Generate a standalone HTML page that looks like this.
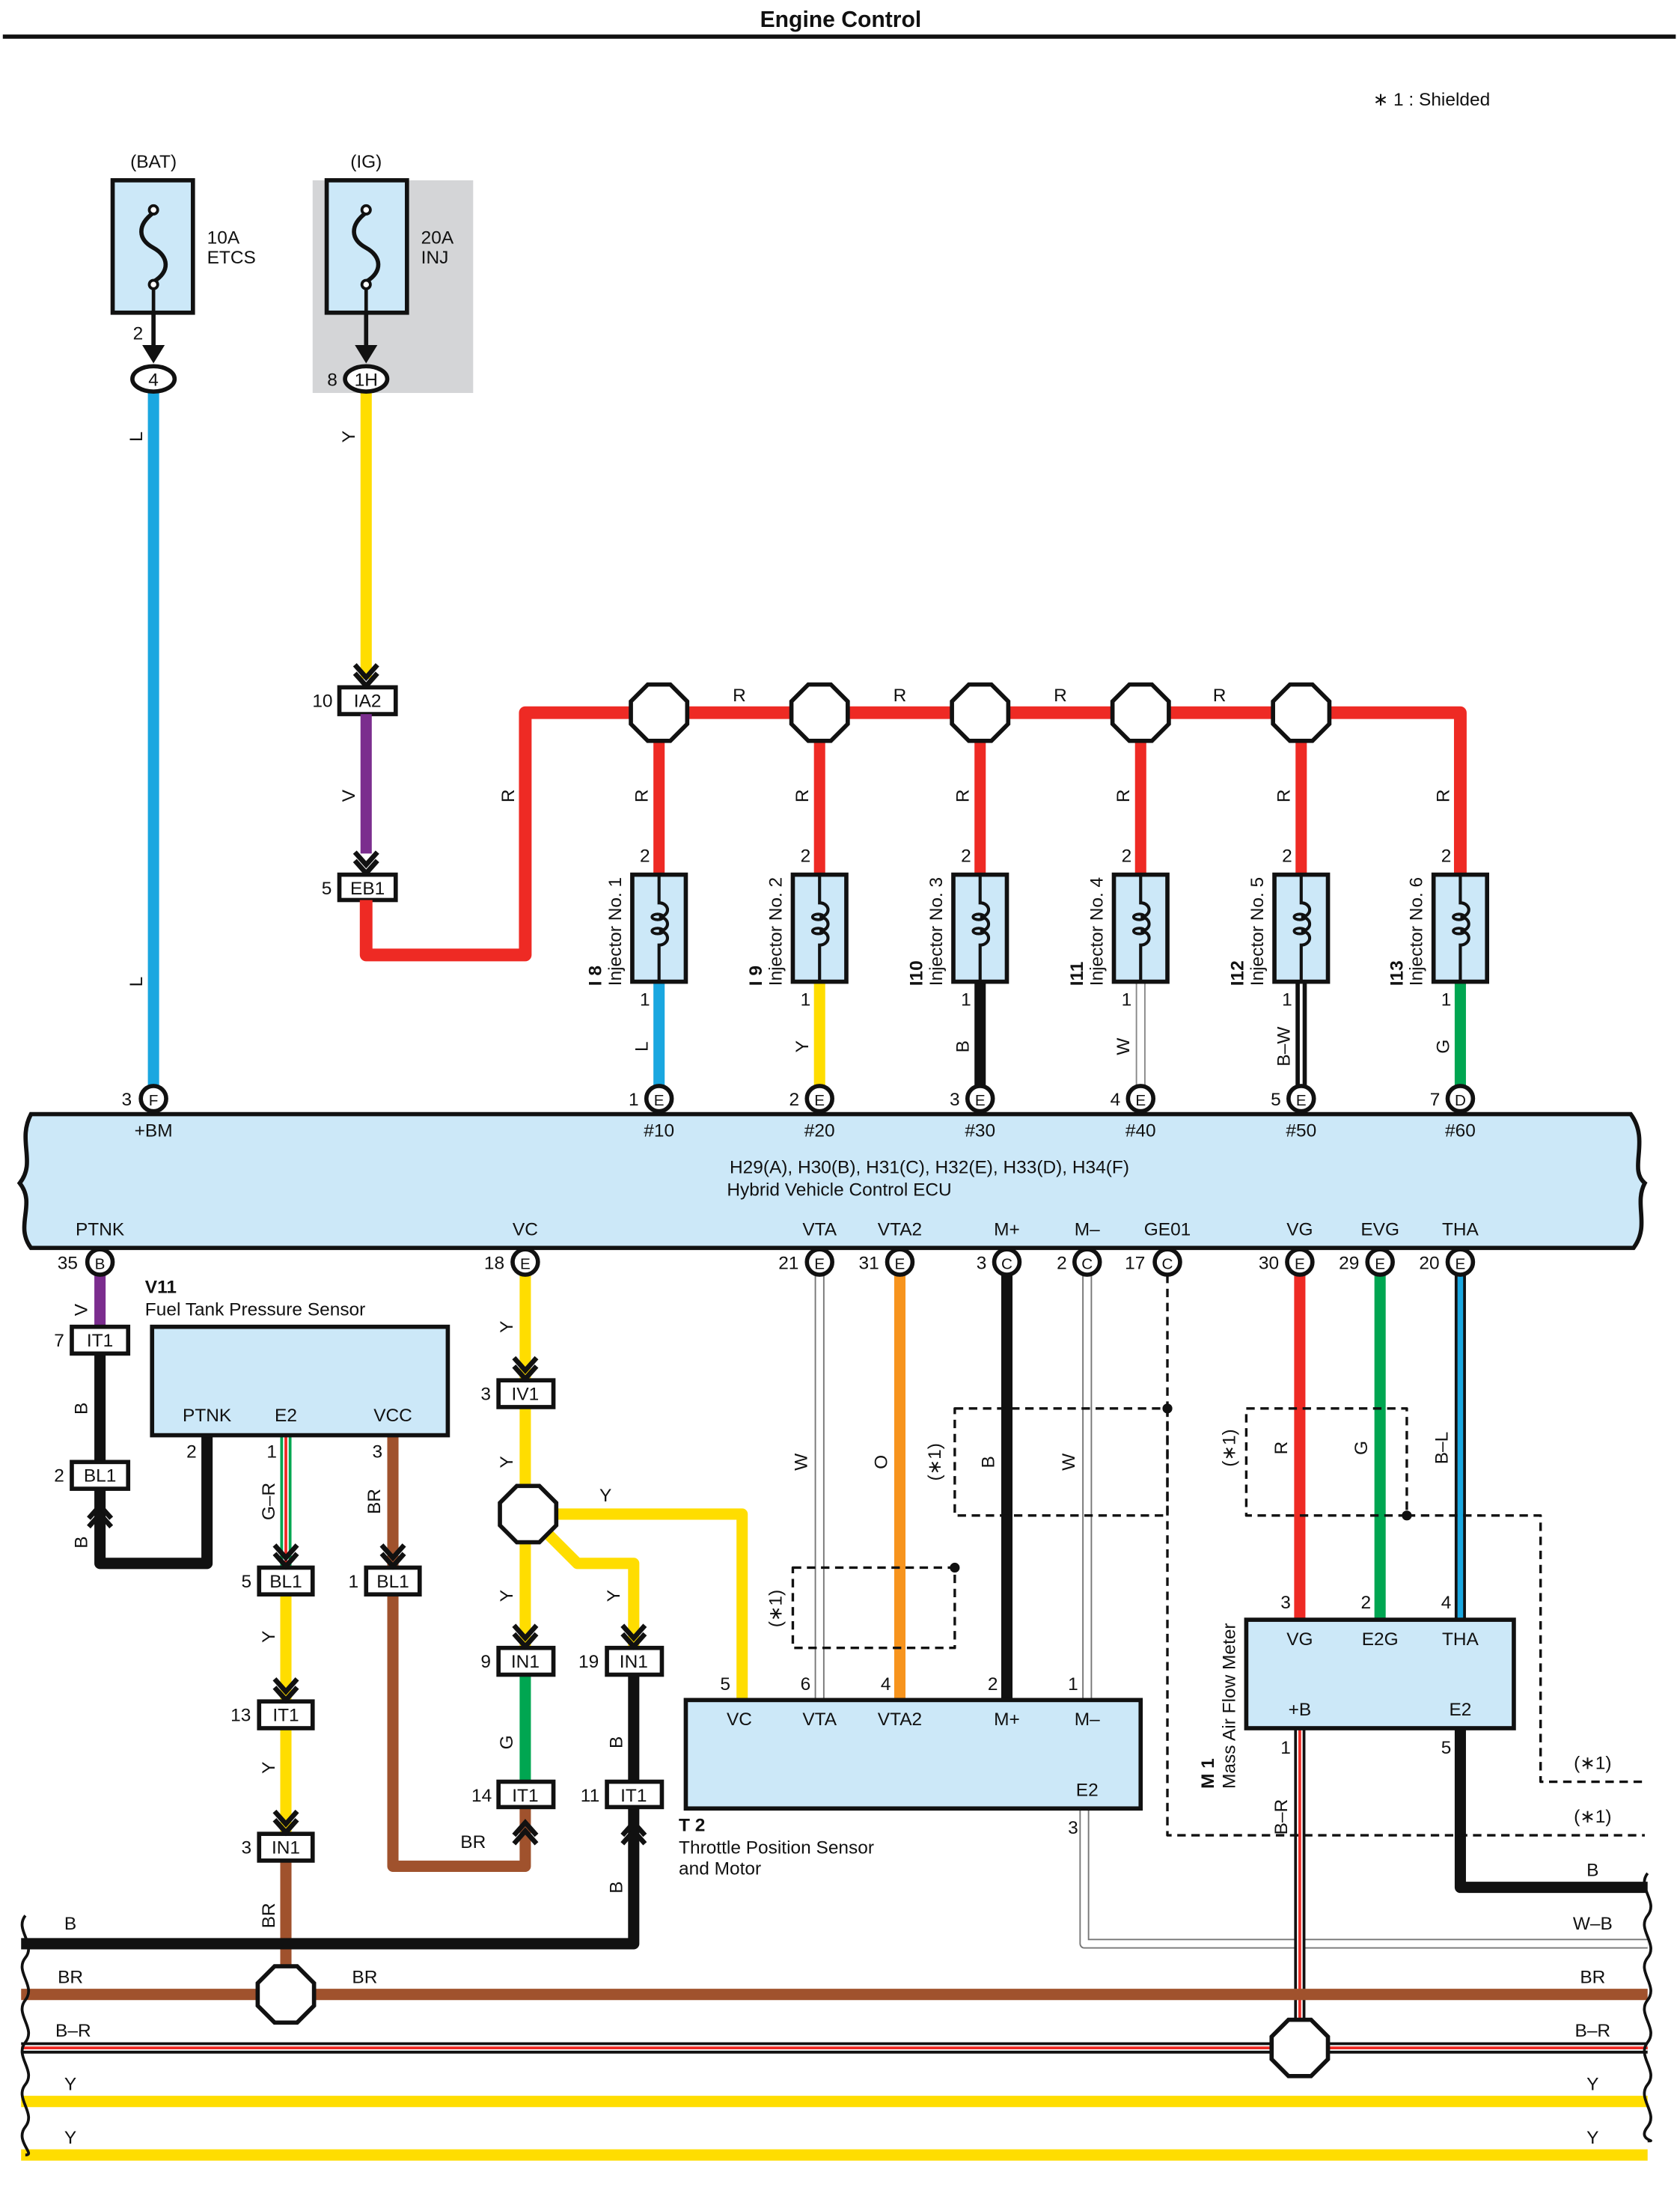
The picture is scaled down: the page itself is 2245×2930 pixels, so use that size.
<!DOCTYPE html>
<html><head><meta charset="utf-8"><style>
html,body{margin:0;padding:0;background:#fff}
svg{display:block}
text{font-family:"Liberation Sans",sans-serif;font-size:13px;fill:#111}
.c{text-anchor:middle}
.b{font-weight:bold}
</style></head><body>
<svg width="2245" height="2930" viewBox="0 0 1193 1557" preserveAspectRatio="none" xmlns="http://www.w3.org/2000/svg">
<defs>
<g id="oct"><polygon points="-8,-20 8,-20 20,-8 20,8 8,20 -8,20 -20,8 -20,-8" fill="#fff" stroke="#111" stroke-width="3"/></g>
<g id="chd"><polyline points="-8,-14 0,-5 8,-14" fill="none" stroke="#111" stroke-width="3.5"/><polyline points="-8,-8 0,1 8,-8" fill="none" stroke="#111" stroke-width="3.5"/></g>
<g id="chu"><polyline points="-8,14 0,5 8,14" fill="none" stroke="#111" stroke-width="3.5"/><polyline points="-8,8 0,-1 8,8" fill="none" stroke="#111" stroke-width="3.5"/></g>
<g id="coil"><rect x="-19" y="0" width="38" height="76" fill="#cce8f8" stroke="#111" stroke-width="3"/><path d="M0,0 V20 a6,5 0 0 1 0,10 a6,5 0 0 1 0,10 a6,5 0 0 1 0,10 V76" fill="none" stroke="#111" stroke-width="2.2"/><ellipse cx="-1" cy="30" rx="4" ry="2" fill="none" stroke="#111" stroke-width="2"/><ellipse cx="-1" cy="40" rx="4" ry="2" fill="none" stroke="#111" stroke-width="2"/></g>
</defs>
<rect width="1193" height="1557" fill="#fff"/>
<text x="597" y="19" class="c b" style="font-size:16px">Engine Control</text>
<line x1="2" y1="26" x2="1190" y2="26" stroke="#111" stroke-width="3"/>
<text x="975" y="75">∗ 1 : Shielded</text>

<!-- fuses -->
<rect x="222" y="128" width="114" height="151" fill="#d4d5d7"/>
<text x="109" y="119" class="c">(BAT)</text><text x="260" y="119" class="c">(IG)</text>
<rect x="80" y="128" width="57" height="94" fill="#cce8f8" stroke="#111" stroke-width="3"/>
<rect x="232" y="128" width="57" height="94" fill="#cce8f8" stroke="#111" stroke-width="3"/>
<path d="M109,151 C97,160 98,170 109,176 C120,182 121,193 109,200" fill="none" stroke="#111" stroke-width="3"/>
<path d="M260,151 C248,160 249,170 260,176 C271,182 272,193 260,200" fill="none" stroke="#111" stroke-width="3"/>
<line x1="109" y1="202" x2="109" y2="222" stroke="#111" stroke-width="2.5"/><line x1="260" y1="202" x2="260" y2="222" stroke="#111" stroke-width="2.5"/>
<circle cx="109" cy="149" r="3" fill="#fff" stroke="#111" stroke-width="2"/><circle cx="109" cy="202" r="3" fill="#fff" stroke="#111" stroke-width="2"/>
<circle cx="260" cy="149" r="3" fill="#fff" stroke="#111" stroke-width="2"/><circle cx="260" cy="202" r="3" fill="#fff" stroke="#111" stroke-width="2"/>
<text x="147" y="173">10A</text><text x="147" y="187">ETCS</text>
<text x="299" y="173">20A</text><text x="299" y="187">INJ</text>
<line x1="109" y1="222" x2="109" y2="250" stroke="#111" stroke-width="3"/><polygon points="101,245 117,245 109,258" fill="#111"/>
<line x1="260" y1="222" x2="260" y2="250" stroke="#111" stroke-width="3"/><polygon points="252,245 268,245 260,258" fill="#111"/>
<text x="98" y="241" class="c">2</text><text x="236" y="274" class="c">8</text>

<!-- wires top -->
<line x1="109" y1="278" x2="109" y2="772" stroke="#1aa7e0" stroke-width="8"/>
<ellipse cx="109" cy="269" rx="15" ry="9" fill="#fff" stroke="#111" stroke-width="3"/><text x="109" y="274" class="c">4</text>
<line x1="260" y1="278" x2="260" y2="482" stroke="#ffdd00" stroke-width="8"/>
<ellipse cx="260" cy="269" rx="15" ry="9" fill="#fff" stroke="#111" stroke-width="3"/><text x="260" y="274" class="c">1H</text>
<use href="#chd" x="260" y="486"/>
<rect x="241" y="488" width="40" height="19" fill="#fff" stroke="#111" stroke-width="3"/><text x="261" y="502" class="c">IA2</text><text x="229" y="502" class="c">10</text>
<line x1="260" y1="507" x2="260" y2="606" stroke="#7b2d8e" stroke-width="8"/>
<use href="#chd" x="260" y="619"/>
<rect x="241" y="621" width="40" height="18" fill="#fff" stroke="#111" stroke-width="3"/><text x="261" y="635" class="c">EB1</text><text x="232" y="635" class="c">5</text>
<path d="M260,639 V678 H373 V506 H1037 V622" fill="none" stroke="#ee2a24" stroke-width="9" stroke-linejoin="round"/>
<g transform="rotate(-90)">
<text x="-310" y="101" class="c">L</text><text x="-697" y="101" class="c">L</text>
<text x="-310" y="252" class="c">Y</text><text x="-565" y="252" class="c">V</text><text x="-565" y="365" class="c">R</text>
</g>
<text x="525" y="498" class="c">R</text><text x="639" y="498" class="c">R</text><text x="753" y="498" class="c">R</text><text x="866" y="498" class="c">R</text>

<!-- injectors -->
<g stroke-width="8">
<line x1="468" y1="506" x2="468" y2="621" stroke="#ee2a24"/><line x1="582" y1="506" x2="582" y2="621" stroke="#ee2a24"/><line x1="696" y1="506" x2="696" y2="621" stroke="#ee2a24"/><line x1="810" y1="506" x2="810" y2="621" stroke="#ee2a24"/><line x1="924" y1="506" x2="924" y2="621" stroke="#ee2a24"/>
<line x1="468" y1="697" x2="468" y2="772" stroke="#1aa7e0"/>
<line x1="582" y1="697" x2="582" y2="772" stroke="#ffdd00"/>
<line x1="696" y1="697" x2="696" y2="772" stroke="#111"/>
<line x1="810" y1="697" x2="810" y2="772" stroke="#888" stroke-width="7"/><line x1="810" y1="697" x2="810" y2="772" stroke="#fff" stroke-width="5"/>
<line x1="924" y1="697" x2="924" y2="772" stroke="#111"/><line x1="924" y1="697" x2="924" y2="772" stroke="#fff" stroke-width="2"/>
<line x1="1037" y1="697" x2="1037" y2="772" stroke="#00a651"/>
</g>
<use href="#oct" x="468" y="506"/><use href="#oct" x="582" y="506"/><use href="#oct" x="696" y="506"/><use href="#oct" x="810" y="506"/><use href="#oct" x="924" y="506"/>
<use href="#coil" x="468" y="621"/><use href="#coil" x="582" y="621"/><use href="#coil" x="696" y="621"/><use href="#coil" x="810" y="621"/><use href="#coil" x="924" y="621"/><use href="#coil" x="1037" y="621"/>
<g class="c">
<text x="458" y="612" class="c">2</text><text x="572" y="612" class="c">2</text><text x="686" y="612" class="c">2</text><text x="800" y="612" class="c">2</text><text x="914" y="612" class="c">2</text><text x="1027" y="612" class="c">2</text>
<text x="458" y="714" class="c">1</text><text x="572" y="714" class="c">1</text><text x="686" y="714" class="c">1</text><text x="800" y="714" class="c">1</text><text x="914" y="714" class="c">1</text><text x="1027" y="714" class="c">1</text>
</g>
<g transform="rotate(-90)">
<text x="-565" y="460" class="c">R</text><text x="-565" y="574" class="c">R</text><text x="-565" y="688" class="c">R</text><text x="-565" y="802" class="c">R</text><text x="-565" y="916" class="c">R</text><text x="-565" y="1029" class="c">R</text>
<text x="-743" y="460" class="c">L</text><text x="-743" y="574" class="c">Y</text><text x="-743" y="688" class="c">B</text><text x="-743" y="802" class="c">W</text><text x="-743" y="916" class="c">B–W</text><text x="-743" y="1029" class="c">G</text>
<text x="-700" y="427" class="b">I 8</text><text x="-700" y="441">Injector No. 1</text>
<text x="-700" y="541" class="b">I 9</text><text x="-700" y="555">Injector No. 2</text>
<text x="-700" y="655" class="b">I10</text><text x="-700" y="669">Injector No. 3</text>
<text x="-700" y="769" class="b">I11</text><text x="-700" y="783">Injector No. 4</text>
<text x="-700" y="883" class="b">I12</text><text x="-700" y="897">Injector No. 5</text>
<text x="-700" y="996" class="b">I13</text><text x="-700" y="1010">Injector No. 6</text>
</g>

<!-- ECU -->
<path d="M22,791 H1158 C1172,810 1156,830 1168,840 C1160,855 1172,870 1160,886 H22 C10,870 26,855 14,840 C26,825 12,810 22,791 Z" fill="#cce8f8" stroke="#111" stroke-width="3"/>
<g>
<circle cx="109" cy="780" r="9" fill="#fff" stroke="#111" stroke-width="3"/><text x="109" y="785" class="c" style="font-size:11px">F</text><text x="90" y="785" class="c">3</text>
<circle cx="468" cy="780" r="9" fill="#fff" stroke="#111" stroke-width="3"/><text x="468" y="785" class="c" style="font-size:11px">E</text><text x="450" y="785" class="c">1</text>
<circle cx="582" cy="780" r="9" fill="#fff" stroke="#111" stroke-width="3"/><text x="582" y="785" class="c" style="font-size:11px">E</text><text x="564" y="785" class="c">2</text>
<circle cx="696" cy="780" r="9" fill="#fff" stroke="#111" stroke-width="3"/><text x="696" y="785" class="c" style="font-size:11px">E</text><text x="678" y="785" class="c">3</text>
<circle cx="810" cy="780" r="9" fill="#fff" stroke="#111" stroke-width="3"/><text x="810" y="785" class="c" style="font-size:11px">E</text><text x="792" y="785" class="c">4</text>
<circle cx="924" cy="780" r="9" fill="#fff" stroke="#111" stroke-width="3"/><text x="924" y="785" class="c" style="font-size:11px">E</text><text x="906" y="785" class="c">5</text>
<circle cx="1037" cy="780" r="9" fill="#fff" stroke="#111" stroke-width="3"/><text x="1037" y="785" class="c" style="font-size:11px">D</text><text x="1019" y="785" class="c">7</text>
</g>
<text x="109" y="807" class="c">+BM</text><text x="468" y="807" class="c">#10</text><text x="582" y="807" class="c">#20</text><text x="696" y="807" class="c">#30</text><text x="810" y="807" class="c">#40</text><text x="924" y="807" class="c">#50</text><text x="1037" y="807" class="c">#60</text>
<text x="660" y="833" class="c">H29(A), H30(B), H31(C), H32(E), H33(D), H34(F)</text>
<text x="596" y="849" class="c">Hybrid Vehicle Control ECU</text>
<text x="71" y="877" class="c">PTNK</text><text x="373" y="877" class="c">VC</text><text x="582" y="877" class="c">VTA</text><text x="639" y="877" class="c">VTA2</text><text x="715" y="877" class="c">M+</text><text x="772" y="877" class="c">M–</text><text x="829" y="877" class="c">GE01</text><text x="923" y="877" class="c">VG</text><text x="980" y="877" class="c">EVG</text><text x="1037" y="877" class="c">THA</text>

<!-- lower wires -->
<g fill="none" stroke-linejoin="round">
<line x1="71" y1="905" x2="71" y2="942" stroke="#7b2d8e" stroke-width="8"/>
<line x1="71" y1="961" x2="71" y2="1038" stroke="#111" stroke-width="8"/>
<path d="M71,1057 V1110 H147 V1019" stroke="#111" stroke-width="8"/>
<line x1="203" y1="1019" x2="203" y2="1113" stroke="#00a651" stroke-width="8"/><line x1="203" y1="1019" x2="203" y2="1113" stroke="#fff" stroke-width="4"/><line x1="203" y1="1019" x2="203" y2="1113" stroke="#ee2a24" stroke-width="2"/>
<line x1="203" y1="1132" x2="203" y2="1208" stroke="#ffdd00" stroke-width="8"/>
<line x1="203" y1="1227" x2="203" y2="1302" stroke="#ffdd00" stroke-width="8"/>
<line x1="203" y1="1321" x2="203" y2="1416" stroke="#a0522d" stroke-width="8"/>
<line x1="279" y1="1019" x2="279" y2="1113" stroke="#a0522d" stroke-width="8"/>
<path d="M279,1132 V1325 H373 V1283" stroke="#a0522d" stroke-width="8"/>
<path d="M373,905 V1170" stroke="#ffdd00" stroke-width="8"/>
<path d="M375,1075 H527 V1207" stroke="#ffdd00" stroke-width="8"/>
<path d="M385,1085 L410,1110 H450 V1170" stroke="#ffdd00" stroke-width="8"/>
<line x1="373" y1="1189" x2="373" y2="1265" stroke="#00a651" stroke-width="8"/>
<line x1="450" y1="1189" x2="450" y2="1265" stroke="#111" stroke-width="8"/>
<path d="M450,1283 V1380 H15" stroke="#111" stroke-width="8"/>
<line x1="582" y1="905" x2="582" y2="1207" stroke="#777" stroke-width="7"/><line x1="582" y1="905" x2="582" y2="1207" stroke="#fff" stroke-width="5"/>
<line x1="639" y1="905" x2="639" y2="1207" stroke="#f7941d" stroke-width="8"/>
<line x1="715" y1="905" x2="715" y2="1207" stroke="#111" stroke-width="8"/>
<line x1="772" y1="905" x2="772" y2="1207" stroke="#777" stroke-width="7"/><line x1="772" y1="905" x2="772" y2="1207" stroke="#fff" stroke-width="5"/>
<path d="M770,1284 V1380 H1170" stroke="#777" stroke-width="7"/><path d="M770,1284 V1380 H1170" stroke="#fff" stroke-width="5"/>
<line x1="923" y1="905" x2="923" y2="1150" stroke="#ee2a24" stroke-width="8"/>
<line x1="980" y1="905" x2="980" y2="1150" stroke="#00a651" stroke-width="8"/>
<line x1="1037" y1="905" x2="1037" y2="1150" stroke="#111" stroke-width="8"/><line x1="1037" y1="905" x2="1037" y2="1150" stroke="#1aa7e0" stroke-width="4"/>
<line x1="923" y1="1227" x2="923" y2="1454" stroke="#111" stroke-width="8"/><line x1="923" y1="1227" x2="923" y2="1454" stroke="#fff" stroke-width="4"/><line x1="923" y1="1227" x2="923" y2="1454" stroke="#ee2a24" stroke-width="2"/>
<path d="M1037,1227 V1340 H1170" stroke="#111" stroke-width="8"/>
<!-- buses -->
<line x1="15" y1="1416" x2="1170" y2="1416" stroke="#a0522d" stroke-width="8"/>
<line x1="15" y1="1454" x2="1170" y2="1454" stroke="#111" stroke-width="8"/><line x1="15" y1="1454" x2="1170" y2="1454" stroke="#fff" stroke-width="4"/><line x1="15" y1="1454" x2="1170" y2="1454" stroke="#ee2a24" stroke-width="2"/>
<line x1="15" y1="1492" x2="1170" y2="1492" stroke="#ffdd00" stroke-width="8"/>
<line x1="15" y1="1530" x2="1170" y2="1530" stroke="#ffdd00" stroke-width="8"/>
<path d="M18,1360 c-8,10 8,20 0,30 c-8,10 8,20 0,30 c-8,10 8,20 0,30 c-8,10 8,20 0,30 c-8,10 8,20 0,30 c-8,10 8,20 0,20" stroke="#111" stroke-width="2"/>
<path d="M1170,1330 c-8,10 8,20 0,30 c-8,10 8,20 0,30 c-8,10 8,20 0,30 c-8,10 8,20 0,30 c-8,10 8,20 0,30 c-8,10 8,20 0,30 c-8,10 8,10 0,10" stroke="#111" stroke-width="2"/>
<!-- shields -->
<g stroke="#111" stroke-width="1.8" stroke-dasharray="6,4">
<path d="M829,905 V1000"/><rect x="678" y="1000" width="151" height="76"/><rect x="563" y="1113" width="115" height="57"/>
<path d="M829,1000 V1303 H1168"/><rect x="885" y="1000" width="114" height="76"/>
<path d="M999,1076 H1094 V1265 H1168"/>
</g>
</g>
<circle cx="829" cy="1000" r="3.5" fill="#111"/><circle cx="678" cy="1113" r="3.5" fill="#111"/><circle cx="999" cy="1076" r="3.5" fill="#111"/>

<!-- ECU lower pins -->
<g>
<circle cx="71" cy="896" r="9" fill="#fff" stroke="#111" stroke-width="3"/><text x="71" y="901" class="c" style="font-size:11px">B</text><text x="48" y="901" class="c">35</text>
<circle cx="373" cy="896" r="9" fill="#fff" stroke="#111" stroke-width="3"/><text x="373" y="901" class="c" style="font-size:11px">E</text><text x="351" y="901" class="c">18</text>
<circle cx="582" cy="896" r="9" fill="#fff" stroke="#111" stroke-width="3"/><text x="582" y="901" class="c" style="font-size:11px">E</text><text x="560" y="901" class="c">21</text>
<circle cx="639" cy="896" r="9" fill="#fff" stroke="#111" stroke-width="3"/><text x="639" y="901" class="c" style="font-size:11px">E</text><text x="617" y="901" class="c">31</text>
<circle cx="715" cy="896" r="9" fill="#fff" stroke="#111" stroke-width="3"/><text x="715" y="901" class="c" style="font-size:11px">C</text><text x="697" y="901" class="c">3</text>
<circle cx="772" cy="896" r="9" fill="#fff" stroke="#111" stroke-width="3"/><text x="772" y="901" class="c" style="font-size:11px">C</text><text x="754" y="901" class="c">2</text>
<circle cx="829" cy="896" r="9" fill="#fff" stroke="#111" stroke-width="3"/><text x="829" y="901" class="c" style="font-size:11px">C</text><text x="806" y="901" class="c">17</text>
<circle cx="923" cy="896" r="9" fill="#fff" stroke="#111" stroke-width="3"/><text x="923" y="901" class="c" style="font-size:11px">E</text><text x="901" y="901" class="c">30</text>
<circle cx="980" cy="896" r="9" fill="#fff" stroke="#111" stroke-width="3"/><text x="980" y="901" class="c" style="font-size:11px">E</text><text x="958" y="901" class="c">29</text>
<circle cx="1037" cy="896" r="9" fill="#fff" stroke="#111" stroke-width="3"/><text x="1037" y="901" class="c" style="font-size:11px">E</text><text x="1015" y="901" class="c">20</text>
</g>

<!-- connectors -->
<g fill="#fff" stroke="#111" stroke-width="3">
<rect x="51" y="942" width="40" height="19"/><rect x="51" y="1038" width="40" height="19"/>
<rect x="184" y="1113" width="38" height="19"/><rect x="260" y="1113" width="38" height="19"/>
<rect x="184" y="1208" width="38" height="19"/><rect x="184" y="1302" width="38" height="19"/>
<rect x="354" y="980" width="39" height="19"/><rect x="354" y="1170" width="39" height="19"/><rect x="354" y="1265" width="39" height="18"/>
<rect x="431" y="1170" width="39" height="19"/><rect x="431" y="1265" width="39" height="18"/>
</g>
<text x="71" y="956" class="c">IT1</text><text x="42" y="956" class="c">7</text>
<text x="71" y="1052" class="c">BL1</text><text x="42" y="1052" class="c">2</text>
<text x="203" y="1127" class="c">BL1</text><text x="175" y="1127" class="c">5</text>
<text x="279" y="1127" class="c">BL1</text><text x="251" y="1127" class="c">1</text>
<text x="203" y="1222" class="c">IT1</text><text x="171" y="1222" class="c">13</text>
<text x="203" y="1316" class="c">IN1</text><text x="175" y="1316" class="c">3</text>
<text x="373" y="994" class="c">IV1</text><text x="345" y="994" class="c">3</text>
<text x="373" y="1184" class="c">IN1</text><text x="345" y="1184" class="c">9</text>
<text x="373" y="1279" class="c">IT1</text><text x="342" y="1279" class="c">14</text>
<text x="450" y="1184" class="c">IN1</text><text x="418" y="1184" class="c">19</text>
<text x="450" y="1279" class="c">IT1</text><text x="419" y="1279" class="c">11</text>
<use href="#chu" x="71" y="1070"/><use href="#chd" x="203" y="1111"/><use href="#chd" x="279" y="1111"/><use href="#chd" x="203" y="1206"/><use href="#chd" x="203" y="1300"/>
<use href="#chd" x="373" y="978"/><use href="#chd" x="373" y="1168"/><use href="#chd" x="450" y="1168"/><use href="#chu" x="373" y="1295"/><use href="#chu" x="450" y="1295"/>
<use href="#oct" x="375" y="1075"/><use href="#oct" x="203" y="1416"/><use href="#oct" x="923" y="1454"/>

<!-- V11 -->
<rect x="108" y="942" width="210" height="77" fill="#cce8f8" stroke="#111" stroke-width="3"/>
<text x="103" y="918" class="b">V11</text><text x="103" y="934">Fuel Tank Pressure Sensor</text>
<text x="147" y="1009" class="c">PTNK</text><text x="203" y="1009" class="c">E2</text><text x="279" y="1009" class="c">VCC</text>
<text x="136" y="1035" class="c">2</text><text x="193" y="1035" class="c">1</text><text x="268" y="1035" class="c">3</text>

<!-- T2 -->
<rect x="487" y="1207" width="323" height="77" fill="#cce8f8" stroke="#111" stroke-width="3"/>
<text x="525" y="1225" class="c">VC</text><text x="582" y="1225" class="c">VTA</text><text x="639" y="1225" class="c">VTA2</text><text x="715" y="1225" class="c">M+</text><text x="772" y="1225" class="c">M–</text><text x="772" y="1275" class="c">E2</text>
<text x="515" y="1200" class="c">5</text><text x="572" y="1200" class="c">6</text><text x="629" y="1200" class="c">4</text><text x="705" y="1200" class="c">2</text><text x="762" y="1200" class="c">1</text><text x="762" y="1302" class="c">3</text>
<text x="482" y="1300" class="b">T 2</text><text x="482" y="1316">Throttle Position Sensor</text><text x="482" y="1331">and Motor</text>

<!-- M1 -->
<rect x="885" y="1150" width="190" height="77" fill="#cce8f8" stroke="#111" stroke-width="3"/>
<text x="923" y="1168" class="c">VG</text><text x="980" y="1168" class="c">E2G</text><text x="1037" y="1168" class="c">THA</text><text x="923" y="1218" class="c">+B</text><text x="1037" y="1218" class="c">E2</text>
<text x="913" y="1142" class="c">3</text><text x="970" y="1142" class="c">2</text><text x="1027" y="1142" class="c">4</text><text x="913" y="1245" class="c">1</text><text x="1027" y="1245" class="c">5</text>

<g transform="rotate(-90)">
<text x="-1000" y="62" class="c">B</text><text x="-930" y="62" class="c">V</text><text x="-1095" y="62" class="c">B</text>
<text x="-1066" y="195" class="c">G–R</text><text x="-1066" y="270" class="c">BR</text><text x="-1162" y="195" class="c">Y</text><text x="-1255" y="195" class="c">Y</text><text x="-1360" y="195" class="c">BR</text>
<text x="-942" y="364" class="c">Y</text><text x="-1038" y="364" class="c">Y</text><text x="-1133" y="364" class="c">Y</text><text x="-1237" y="364" class="c">G</text>
<text x="-1133" y="440" class="c">Y</text><text x="-1237" y="442" class="c">B</text><text x="-1340" y="442" class="c">B</text>
<text x="-1038" y="573" class="c">W</text><text x="-1038" y="630" class="c">O</text><text x="-1038" y="706" class="c">B</text><text x="-1038" y="763" class="c">W</text>
<text x="-1038" y="668" class="c">(∗1)</text><text x="-1142" y="555" class="c">(∗1)</text>
<text x="-1028" y="914" class="c">R</text><text x="-1028" y="971" class="c">G</text><text x="-1028" y="1028" class="c">B–L</text><text x="-1028" y="877" class="c">(∗1)</text>
<text x="-1290" y="914" class="c">B–R</text>
<text x="-1270" y="862" class="b">M 1</text><text x="-1270" y="877">Mass Air Flow Meter</text>
</g>
<text x="430" y="1066" class="c">Y</text><text x="336" y="1312" class="c">BR</text>
<text x="50" y="1370" class="c">B</text><text x="50" y="1408" class="c">BR</text><text x="52" y="1446" class="c">B–R</text><text x="50" y="1484" class="c">Y</text><text x="50" y="1522" class="c">Y</text>
<text x="259" y="1408" class="c">BR</text>
<text x="1131" y="1256" class="c">(∗1)</text><text x="1131" y="1294" class="c">(∗1)</text><text x="1131" y="1332" class="c">B</text><text x="1131" y="1370" class="c">W–B</text><text x="1131" y="1408" class="c">BR</text><text x="1131" y="1446" class="c">B–R</text><text x="1131" y="1484" class="c">Y</text><text x="1131" y="1522" class="c">Y</text>
</svg>
</body></html>
